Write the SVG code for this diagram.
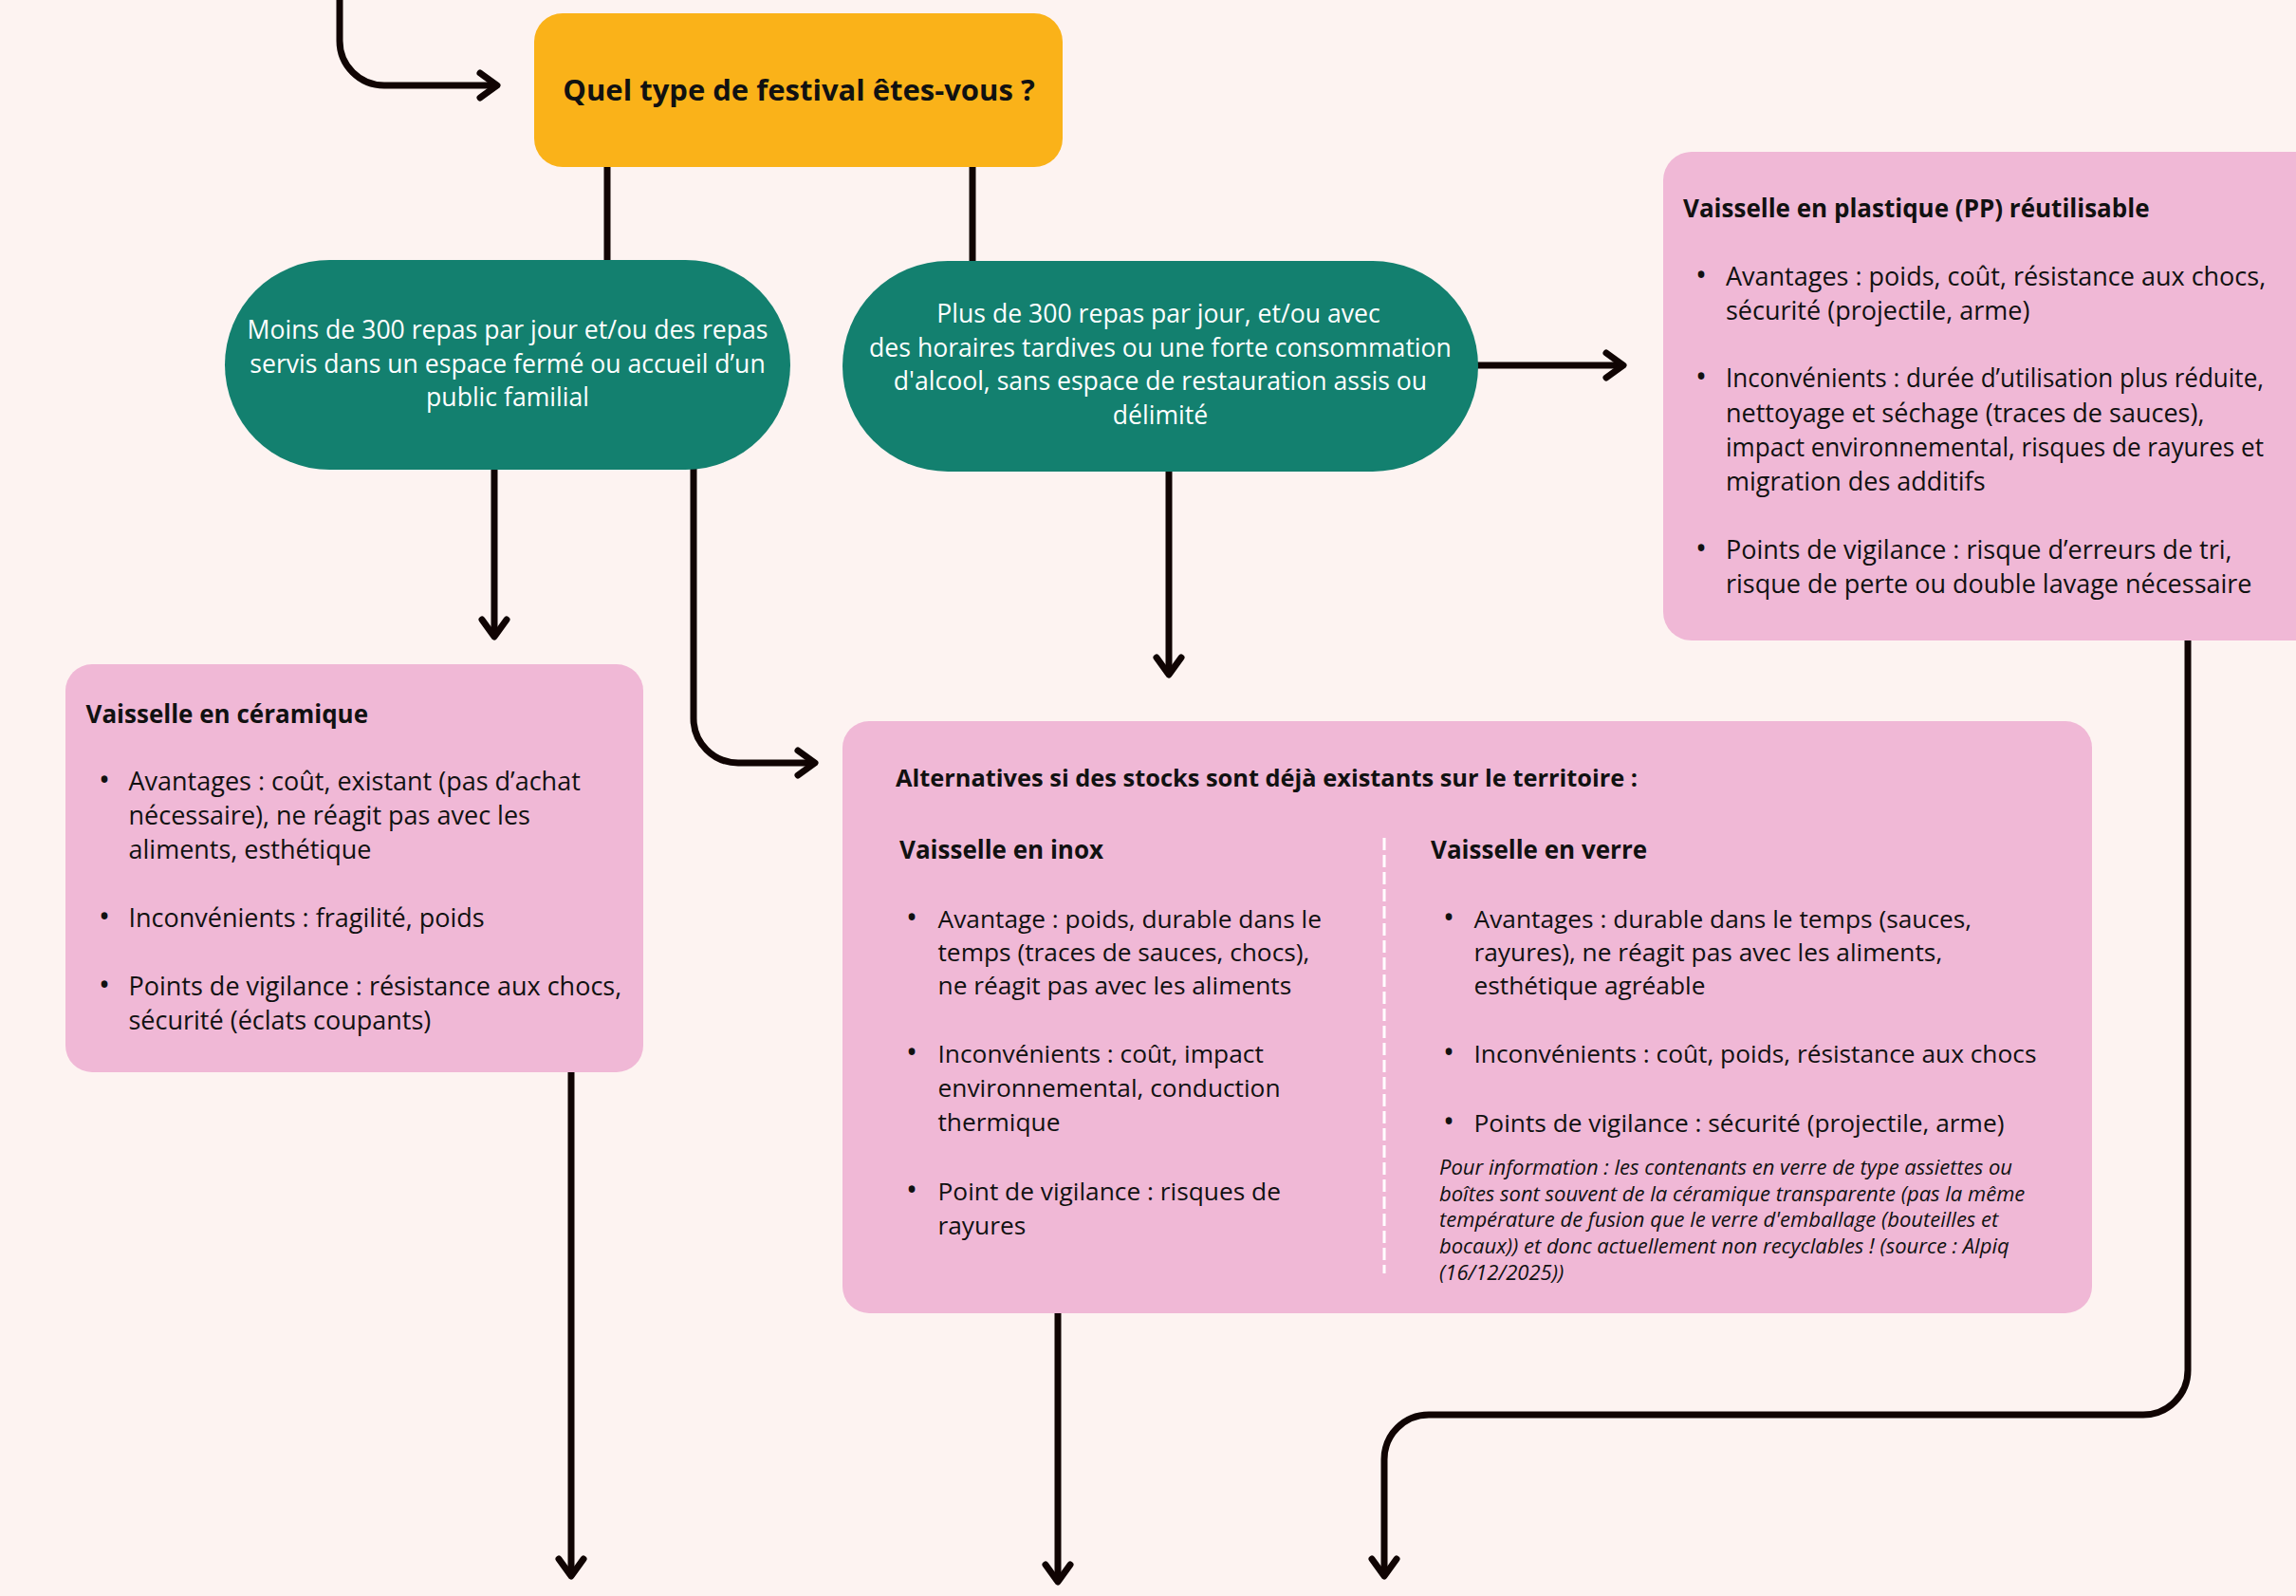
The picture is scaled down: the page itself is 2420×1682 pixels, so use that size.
<svg xmlns="http://www.w3.org/2000/svg" width="2420" height="1682" viewBox="0 0 2420 1682">
<defs>
<style>
.bg{fill:#FDF3F1}
.q{fill:#FAB219}
.g{fill:#13806F}
.p{fill:#F0B8D6}
.t{font-family:"Open Sans","Liberation Sans",sans-serif;fill:#111}
.w{font-family:"Open Sans","Liberation Sans",sans-serif;fill:#fff;font-size:26.6px;text-anchor:middle}
.b{font-size:27px}
.b2{font-size:26.3px}
.h{font-size:26px;font-weight:700}
.h2{font-size:25.4px;font-weight:700}
.big{font-size:31px;font-weight:700;text-anchor:middle}
.n{font-size:22px;font-style:italic}
.dot{text-anchor:middle;font-size:32px}
.c{fill:none;stroke:#100403;stroke-width:7}
</style>
<marker id="ah" markerUnits="userSpaceOnUse" markerWidth="40" markerHeight="40" refX="0" refY="0" orient="auto" overflow="visible">
<path d="M -18 -13 L 0 0 L -18 13" fill="none" stroke="#100403" stroke-width="7" stroke-linecap="round" stroke-linejoin="round"/>
</marker>
</defs>
<rect class="bg" x="0" y="0" width="2420" height="1682"/>

<g id="connectors">
<path class="c" d="M 358 -5 L 358 43 A 47 47 0 0 0 405 90 L 524 90" marker-end="url(#ah)"/>
<path class="c" d="M 640 174 L 640 276"/>
<path class="c" d="M 1025 174 L 1025 277"/>
<path class="c" d="M 521 494 L 521 671" marker-end="url(#ah)"/>
<path class="c" d="M 731 494 L 731 757 A 47 47 0 0 0 778 804 L 859 804" marker-end="url(#ah)"/>
<path class="c" d="M 1232 496 L 1232 711" marker-end="url(#ah)"/>
<path class="c" d="M 1556 385 L 1711 385" marker-end="url(#ah)"/>
<path class="c" d="M 602 1128 L 602 1661" marker-end="url(#ah)"/>
<path class="c" d="M 1115 1382 L 1115 1667" marker-end="url(#ah)"/>
<path class="c" d="M 2306 673 L 2306 1444 A 47 47 0 0 1 2259 1491 L 1506 1491 A 47 47 0 0 0 1459 1538 L 1459 1661" marker-end="url(#ah)"/>
</g>

<g id="node-question">
<rect class="q" x="563" y="14" width="557" height="162" rx="30"/>
<text class="t big" x="842" y="106">Quel type de festival êtes-vous ?</text>
</g>

<g id="node-moins300">
<rect class="g" x="237" y="274" width="596" height="221" rx="110.5"/>
<text class="w" x="535" y="357">Moins de 300 repas par jour et/ou des repas</text>
<text class="w" x="535" y="392.5">servis dans un espace fermé ou accueil d’un</text>
<text class="w" x="535" y="428">public familial</text>
</g>

<g id="node-plus300">
<rect class="g" x="888" y="275" width="670" height="222" rx="111"/>
<text class="w" x="1221" y="340">Plus de 300 repas par jour, et/ou avec</text>
<text class="w" x="1223" y="375.5">des horaires tardives ou une forte consommation</text>
<text class="w" x="1223" y="411">d'alcool, sans espace de restauration assis ou</text>
<text class="w" x="1223" y="447">délimité</text>
</g>

<g id="node-plastique">
<rect class="p" x="1753" y="160" width="700" height="515" rx="30"/>
<text class="t h" x="1774" y="228.5">Vaisselle en plastique (PP) réutilisable</text>
<g class="t b">
<text class="dot" x="1793" y="301">•</text>
<text x="1819" y="301">Avantages : poids, coût, résistance aux chocs,</text>
<text x="1819" y="337">sécurité (projectile, arme)</text>
<text class="dot" x="1793" y="408">•</text>
<text x="1819" y="408" textLength="567" lengthAdjust="spacingAndGlyphs">Inconvénients : durée d’utilisation plus réduite,</text>
<text x="1819" y="444.5">nettoyage et séchage (traces de sauces),</text>
<text x="1819" y="481" textLength="567" lengthAdjust="spacingAndGlyphs">impact environnemental, risques de rayures et</text>
<text x="1819" y="517">migration des additifs</text>
<text class="dot" x="1793" y="589">•</text>
<text x="1819" y="589">Points de vigilance : risque d’erreurs de tri,</text>
<text x="1819" y="625">risque de perte ou double lavage nécessaire</text>
</g>
</g>

<g id="node-ceramique">
<rect class="p" x="69" y="700" width="609" height="430" rx="28"/>
<text class="t h" x="90.5" y="761.5">Vaisselle en céramique</text>
<g class="t b">
<text class="dot" x="110" y="833">•</text>
<text x="135.5" y="833">Avantages : coût, existant (pas d’achat</text>
<text x="135.5" y="869">nécessaire), ne réagit pas avec les</text>
<text x="135.5" y="905">aliments, esthétique</text>
<text class="dot" x="110" y="977">•</text>
<text x="135.5" y="977">Inconvénients : fragilité, poids</text>
<text class="dot" x="110" y="1049">•</text>
<text x="135.5" y="1049">Points de vigilance : résistance aux chocs,</text>
<text x="135.5" y="1085">sécurité (éclats coupants)</text>
</g>
</g>

<g id="node-alternatives">
<rect class="p" x="888" y="760" width="1317" height="624" rx="28"/>
<text class="t h2" x="944" y="829">Alternatives si des stocks sont déjà existants sur le territoire :</text>
<text class="t h" x="948" y="905">Vaisselle en inox</text>
<text class="t h" x="1508" y="905">Vaisselle en verre</text>
<line x1="1459" y1="883" x2="1459" y2="1342" stroke="#fff" stroke-width="3" stroke-dasharray="13 5"/>
<g class="t b2">
<text class="dot" x="961" y="978">•</text>
<text x="988.5" y="978">Avantage : poids, durable dans le</text>
<text x="988.5" y="1013">temps (traces de sauces, chocs),</text>
<text x="988.5" y="1048">ne réagit pas avec les aliments</text>
<text class="dot" x="961" y="1120">•</text>
<text x="988.5" y="1120">Inconvénients : coût, impact</text>
<text x="988.5" y="1156">environnemental, conduction</text>
<text x="988.5" y="1192">thermique</text>
<text class="dot" x="961" y="1265">•</text>
<text x="988.5" y="1265">Point de vigilance : risques de</text>
<text x="988.5" y="1301">rayures</text>
<text class="dot" x="1527" y="978">•</text>
<text x="1553.5" y="978">Avantages : durable dans le temps (sauces,</text>
<text x="1553.5" y="1013">rayures), ne réagit pas avec les aliments,</text>
<text x="1553.5" y="1048">esthétique agréable</text>
<text class="dot" x="1527" y="1120">•</text>
<text x="1553.5" y="1120">Inconvénients : coût, poids, résistance aux chocs</text>
<text class="dot" x="1527" y="1193">•</text>
<text x="1553.5" y="1193">Points de vigilance : sécurité (projectile, arme)</text>
</g>
<g class="t n">
<text x="1517" y="1238">Pour information : les contenants en verre de type assiettes ou</text>
<text x="1517" y="1265.5">boîtes sont souvent de la céramique transparente (pas la même</text>
<text x="1517" y="1293">température de fusion que le verre d'emballage (bouteilles et</text>
<text x="1517" y="1321">bocaux)) et donc actuellement non recyclables ! (source : Alpiq</text>
<text x="1517" y="1349">(16/12/2025))</text>
</g>
</g>
</svg>
